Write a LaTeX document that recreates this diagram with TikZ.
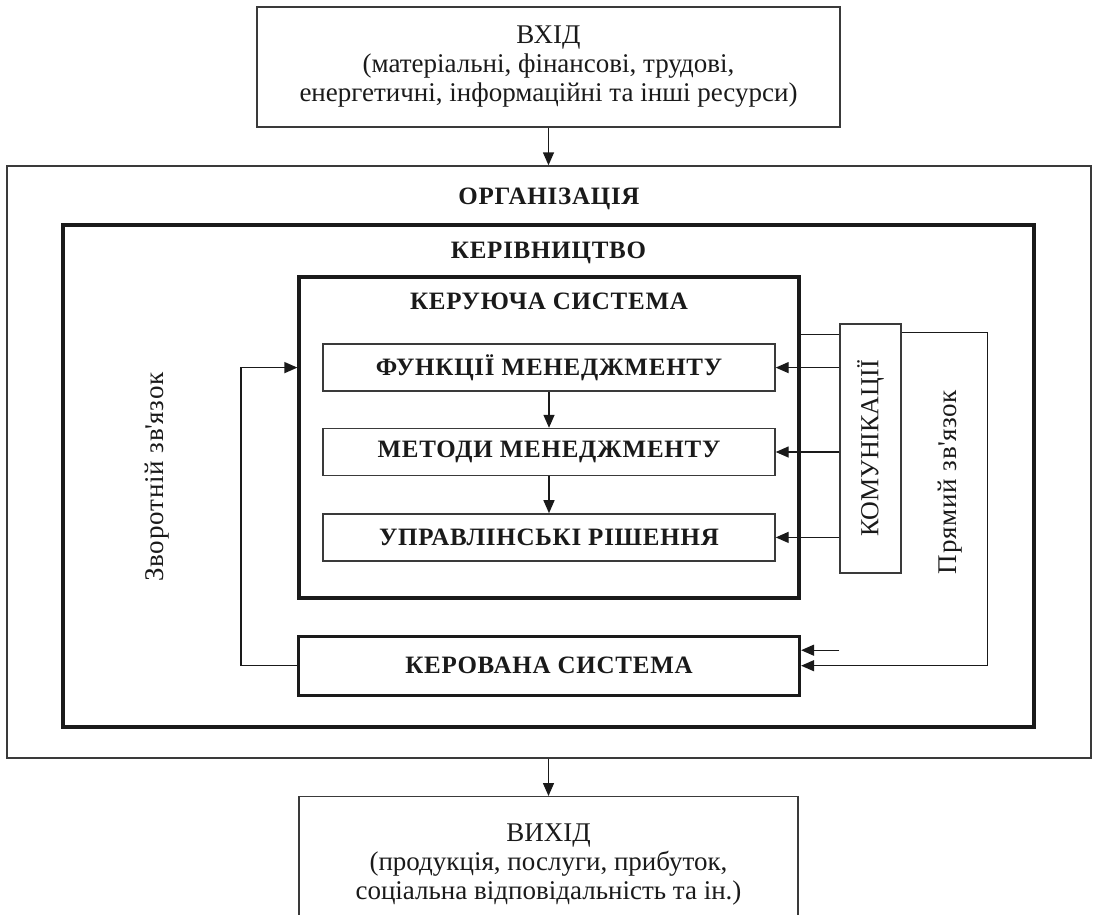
\documentclass[tikz,border=0pt]{standalone}
\usepackage{fontspec}
\setmainfont{Liberation Serif}
\usetikzlibrary{arrows.meta,positioning,calc}
\definecolor{ink}{HTML}{1A1A1A}
\definecolor{frame}{HTML}{3A3A3A}
\newfontfamily\spacedfont[LetterSpace=3]{Liberation Serif}
\tikzset{
  panel/.style={draw=frame,line width=1.4pt,inner sep=0pt},
  boldpanel/.style={draw=ink,line width=3.2pt,inner sep=0pt},
  resbox/.style={draw=frame,line width=1.4pt,align=center,font=\fontsize{27}{29}\selectfont,text=ink},
  stepbox/.style={draw=frame,line width=1.4pt,minimum width=452pt,minimum height=47pt,font=\spacedfont\fontsize{25}{27}\selectfont\bfseries,text=ink},
  title/.style={font=\spacedfont\fontsize{25}{27}\selectfont\bfseries,text=ink,inner sep=0pt,text height=17pt,text depth=4pt},
  side/.style={rotate=90,font=\spacedfont\fontsize{27}{29}\selectfont,text=ink},
  flow/.style={-{Triangle[length=13pt,width=11pt]},line width=1.4pt,draw=ink},
  link/.style={line width=1.4pt,draw=ink}
}
\begin{document}
\begin{tikzpicture}[x=1pt,y=-1pt]
    \useasboundingbox (0,0) rectangle (1096,914);

    \node[resbox,minimum width=583pt,minimum height=120pt] (vhid) at (548.5,67) {ВХІД\\(матеріальні, фінансові, трудові,\\енергетичні, інформаційні та інші ресурси)};
    \node[panel,minimum width=1084pt,minimum height=592pt] (org) at (549,462) {};
    \node[title,below=22pt of org.north] (orgt) {ОРГАНІЗАЦІЯ};
    \node[boldpanel,minimum width=971pt,minimum height=502pt] (keriv) at (548.5,476) {};
    \node[title,below=18pt of keriv.north] (kerivt) {КЕРІВНИЦТВО};
    \node[boldpanel,minimum width=500pt,minimum height=321pt] (keruy) at (549,437.5) {};
    \node[title,below=17pt of keruy.north] (keruyt) {КЕРУЮЧА СИСТЕМА};

    \node[stepbox,below=68pt of keruy.north] (func) {ФУНКЦІЇ МЕНЕДЖМЕНТУ};
    \node[stepbox,below=36pt of func] (metody) {МЕТОДИ МЕНЕДЖМЕНТУ};
    \node[stepbox,below=37pt of metody] (rishennia) {УПРАВЛІНСЬКІ РІШЕННЯ};
    \node[boldpanel,below=35pt of keruy,minimum width=501pt,minimum height=59pt,font=\spacedfont\fontsize{25}{27}\selectfont\bfseries,text=ink] (kerovana) {КЕРОВАНА СИСТЕМА};

    \node[panel,minimum width=61pt,minimum height=249pt,font=\fontsize{26}{30}\selectfont,text=ink] (komun) at (870.5,448.5) {\rotatebox{90}{КОМУНІКАЦІЇ}};
    \node[side] (zvor) at (157,477) {Зворотній зв\textquotesingle язок};
    \node[side] (pryam) at (950,482) {Прямий зв\textquotesingle язок};

    \node[resbox,anchor=north,minimum width=499pt,minimum height=136pt] (vyhid) at (548.5,796) {ВИХІД\\(продукція, послуги, прибуток,\\соціальна відповідальність та ін.)};

    \draw[flow] (vhid.south) -- (vhid.south |- org.north);
    \draw[flow] (org.south -| vyhid.north) -- (vyhid.north);
    \draw[flow] (func) -- (metody);
    \draw[flow] (metody) -- (rishennia);

    \draw[flow] (kerovana.west) -- ++(-56,0) |- (func -| keruy.west);

    \coordinate[below=11pt of komun.north west] (ktop);
    \draw[link] (ktop) -- (keruy.east |- ktop);
    \draw[flow] (komun.west |- func) -- (func.east);
    \draw[flow] (komun.west |- metody) -- (metody.east);
    \draw[flow] (komun.west |- rishennia) -- (rishennia.east);

    \draw[flow] ($(komun.north east)+(0,9)$) -- ++(86,0) |- (kerovana.east);
    \coordinate (kin) at ($(kerovana.east)+(0,-15.5)$);
    \draw[flow] (komun.west |- kin) -- (kin);
\end{tikzpicture}
\end{document}
